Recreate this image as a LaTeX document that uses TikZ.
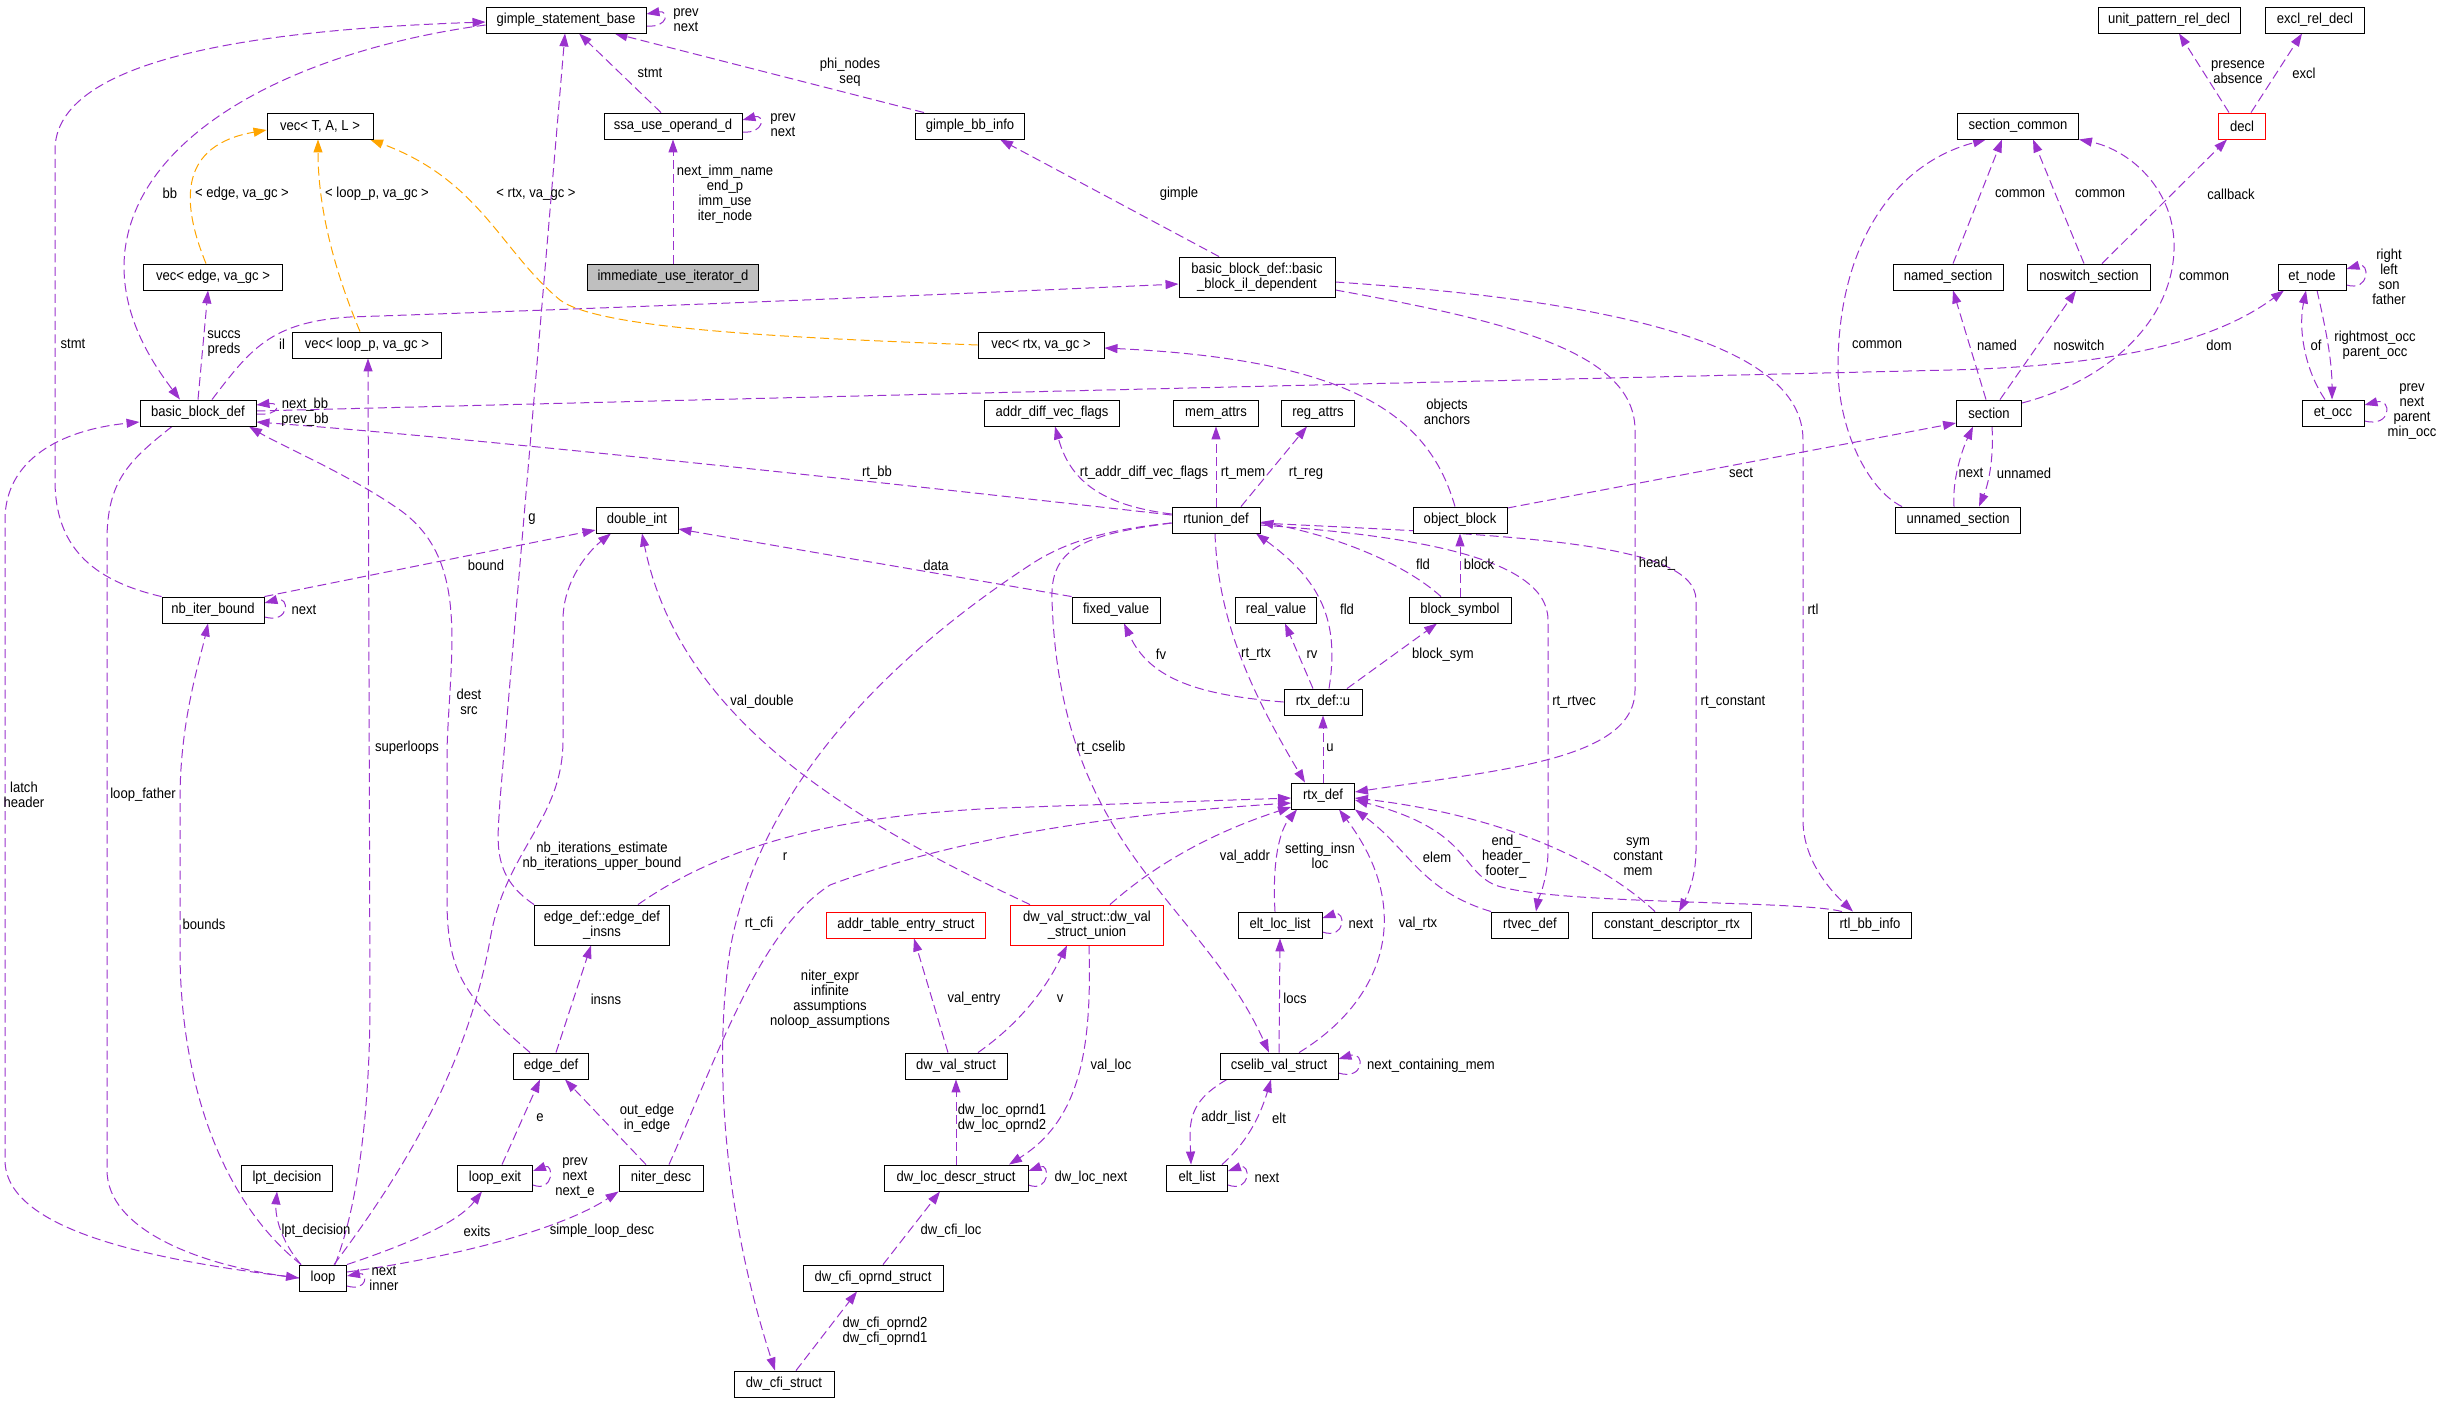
\documentclass[tikz,border=0pt]{standalone}
\usepackage{fontspec}
\setmainfont{Liberation Sans}[FakeStretch=0.9]
\usetikzlibrary{arrows.meta,backgrounds}
\definecolor{pur}{HTML}{9A32CD}
\definecolor{org}{HTML}{FFA500}
\definecolor{grayfill}{HTML}{BFBFBF}
\begin{document}
\begin{tikzpicture}[x=1pt,y=-1pt,
  every node/.style={font=\fontsize{14.5}{15}\selectfont},
  cls/.style={draw=black, line width=0.9pt, fill=white, minimum height=26pt, inner sep=0pt, align=center},
  cls2/.style={cls, minimum height=40pt},
  redcls/.style={draw=red},
  lbl/.style={inner sep=0pt, align=center},
  pe/.style={draw=pur, color=pur, line width=1pt, dash pattern=on 9pt off 4.5pt, -{Triangle[length=13pt,width=9pt]}},
  oe/.style={pe, draw=org, color=org}]
\useasboundingbox (0,0) rectangle (2443,1403);
% ---------------- nodes ----------------
\node[cls,minimum width=160pt] (gsb) at (566,20) {gimple\_statement\_base};
\node[cls,minimum width=106pt] (vecT) at (320,126) {vec< T, A, L >};
\node[cls,minimum width=138pt] (ssa) at (673,126) {ssa\_use\_operand\_d};
\node[cls,minimum width=109pt] (gbi) at (970,126) {gimple\_bb\_info};
\node[cls,minimum width=142pt] (upr) at (2169,20) {unit\_pattern\_rel\_decl};
\node[cls,minimum width=99pt] (exd) at (2315,20) {excl\_rel\_decl};
\node[cls,minimum width=121pt] (secc) at (2018,126) {section\_common};
\node[cls,redcls,minimum width=47pt] (decl) at (2242,126) {decl};
\node[cls,minimum width=139pt] (vece) at (213,277) {vec< edge, va\_gc >};
\node[cls,fill=grayfill,minimum width=171pt] (imm) at (673,277) {immediate\_use\_iterator\_d};
\node[cls2,minimum width=156pt] (bbil) at (1257,277) {basic\_block\_def::basic\\\_block\_il\_dependent};
\node[cls,minimum width=110pt] (nsec) at (1948,277) {named\_section};
\node[cls,minimum width=123pt] (nosw) at (2089,277) {noswitch\_section};
\node[cls,minimum width=68pt] (etn) at (2312,277) {et\_node};
\node[cls,minimum width=149pt] (vecl) at (367,345) {vec< loop\_p, va\_gc >};
\node[cls,minimum width=126pt] (vecr) at (1041,345) {vec< rtx, va\_gc >};
\node[cls,minimum width=116pt] (bbd) at (198,413) {basic\_block\_def};
\node[cls,minimum width=135pt] (adv) at (1052,413) {addr\_diff\_vec\_flags};
\node[cls,minimum width=85pt] (mema) at (1216,413) {mem\_attrs};
\node[cls,minimum width=73pt] (rega) at (1318,413) {reg\_attrs};
\node[cls,minimum width=65pt] (sec) at (1989,413) {section};
\node[cls,minimum width=62pt] (eto) at (2333,413) {et\_occ};
\node[cls,minimum width=82pt] (dint) at (637,520) {double\_int};
\node[cls,minimum width=88pt] (rtu) at (1216,520) {rtunion\_def};
\node[cls,minimum width=94pt] (ob) at (1460,520) {object\_block};
\node[cls,minimum width=125pt] (uns) at (1958,520) {unnamed\_section};
\node[cls,minimum width=102pt] (nbi) at (213,610) {nb\_iter\_bound};
\node[cls,minimum width=88pt] (fxv) at (1116,610) {fixed\_value};
\node[cls,minimum width=81pt] (rlv) at (1276,610) {real\_value};
\node[cls,minimum width=102pt] (bsy) at (1460,610) {block\_symbol};
\node[cls,minimum width=78pt] (rdu) at (1323,702) {rtx\_def::u};
\node[cls,minimum width=63pt] (rtx) at (1323,796) {rtx\_def};
\node[cls2,minimum width=135pt] (ediu) at (602,925) {edge\_def::edge\_def\\\_insns};
\node[cls,redcls,minimum width=159pt] (ate) at (906,925) {addr\_table\_entry\_struct};
\node[cls2,redcls,minimum width=153pt] (dwu) at (1087,925) {dw\_val\_struct::dw\_val\\\_struct\_union};
\node[cls,minimum width=84pt] (ell) at (1280,925) {elt\_loc\_list};
\node[cls,minimum width=77pt] (rtv) at (1530,925) {rtvec\_def};
\node[cls,minimum width=159pt] (cdr) at (1672,925) {constant\_descriptor\_rtx};
\node[cls,minimum width=83pt] (rbi) at (1870,925) {rtl\_bb\_info};
\node[cls,minimum width=75pt] (ed) at (551,1066) {edge\_def};
\node[cls,minimum width=102pt] (dws) at (956,1066) {dw\_val\_struct};
\node[cls,minimum width=118pt] (csv) at (1279,1066) {cselib\_val\_struct};
\node[cls,minimum width=91pt] (lpt) at (287,1178) {lpt\_decision};
\node[cls,minimum width=75pt] (lex) at (495,1178) {loop\_exit};
\node[cls,minimum width=84pt] (nd) at (661,1178) {niter\_desc};
\node[cls,minimum width=144pt] (dld) at (956,1178) {dw\_loc\_descr\_struct};
\node[cls,minimum width=61pt] (el) at (1197,1178) {elt\_list};
\node[cls,minimum width=47pt] (lp) at (323,1278) {loop};
\node[cls,minimum width=140pt] (dco) at (873,1278) {dw\_cfi\_oprnd\_struct};
\node[cls,minimum width=100pt] (dcs) at (784,1384) {dw\_cfi\_struct};
% ---------------- edges ----------------
\begin{pgfonlayer}{background}
\draw[pe] ([xshift=-12pt]ssa.north) -- ([xshift=13pt]gsb.south);
\draw[pe] ([yshift=-6pt]ssa.east) .. controls (765,134) and (765,114) .. ([yshift=6pt]ssa.east);
\draw[pe] ([yshift=-6pt]gsb.east) .. controls (669,28) and (669,10) .. ([yshift=6pt]gsb.east);
\draw[pe] ([xshift=-46pt]gbi.north) -- ([xshift=-32pt]gsb.south east);
\draw[pe] (imm.north) -- (ssa.south);
\draw[pe] ([xshift=-38pt]bbil.north) -- ([xshift=30pt]gbi.south);
\draw[pe] ([xshift=-13pt]decl.north) -- ([xshift=10pt]upr.south);
\draw[pe] ([xshift=9pt]decl.north) -- ([xshift=-13pt]exd.south);
\draw[pe] ([xshift=5pt]nsec.north) -- ([xshift=-16pt]secc.south);
\draw[pe] ([xshift=-5pt]nosw.north) -- ([xshift=15pt]secc.south);
\draw[pe] ([xshift=13pt]nosw.north) -- ([xshift=-15pt]decl.south);
\draw[pe] ([yshift=10pt]sec.east) .. controls (2110,380) and (2172,320) .. (2174,250) .. controls (2176,190) and (2130,150) .. (secc.south east);
\draw[pe] ([xshift=-56pt]uns.north) .. controls (1868,490) and (1838,430) .. (1838,367) .. controls (1838,250) and (1890,165) .. ([xshift=-32pt]secc.south);
\draw[pe] ([xshift=-3pt]sec.north) -- ([xshift=5pt]nsec.south);
\draw[pe] ([xshift=11pt]sec.north) -- ([xshift=-13pt]nosw.south);
\draw[pe] ([xshift=-4pt]uns.north) .. controls (1952,480) and (1962,450) .. ([xshift=-16pt]sec.south);
\draw[pe] ([xshift=3pt]sec.south) .. controls (1994,460) and (1988,485) .. ([xshift=21pt]uns.north);
\draw[pe] ([yshift=12pt]ob.east) -- ([yshift=-10pt]sec.west);
\draw[pe] ([yshift=-8pt]etn.east) .. controls (2370,292) and (2370,262) .. ([yshift=8pt]etn.east);
\draw[pe] ([xshift=-8pt]eto.north) .. controls (2305,370) and (2298,330) .. ([xshift=-6pt]etn.south);
\draw[pe] ([xshift=5pt]etn.south) .. controls (2326,330) and (2332,360) .. ([xshift=-1pt]eto.north);
\draw[pe] ([yshift=-8pt]eto.east) .. controls (2392,428) and (2392,398) .. ([yshift=8pt]eto.east);
\draw[pe] ([yshift=2pt]bbd.east) .. controls (1000,392) and (1700,376) .. (1950,370) .. controls (2150,365) and (2230,330) .. ([xshift=-28pt]etn.south);
\draw[pe] ([yshift=-1pt]bbd.east) .. controls (281,416) and (281,402) .. ([yshift=8pt]bbd.east);
\draw[pe] ([yshift=5pt]rtu.west) .. controls (950,490) and (500,440) .. ([yshift=-9pt]bbd.east);
\draw[pe] ([xshift=14pt]bbd.north) .. controls (250,350) and (270,322) .. (350,317) .. controls (700,305) and (1000,292) .. ([yshift=-7pt]bbil.west);
\draw[pe] ([yshift=-5pt]gsb.west) .. controls (300,50) and (140,130) .. (125,250) .. controls (118,310) and (150,360) .. ([xshift=-18pt]bbd.north);
\draw[pe] (nbi.north west) .. controls (90,580) and (55,545) .. (55,480) -- (55,150) .. controls (55,60) and (250,30) .. ([yshift=-2pt]gsb.west);
\draw[pe] (ediu.north west) .. controls (490,875) and (498,840) .. (500,800) -- ([xshift=-1pt]gsb.south);
\draw[oe] ([xshift=-7pt]vece.north) .. controls (180,200) and (180,145) .. ([yshift=-4pt]vecT.west);
\draw[oe] ([xshift=-7pt]vecl.north) .. controls (330,260) and (318,200) .. ([xshift=-2pt]vecT.south);
\draw[oe] (vecr.west) .. controls (800,338) and (600,330) .. (560,300) .. controls (500,250) and (480,180) .. ([xshift=50pt]vecT.south);
\draw[pe] ([xshift=-5pt]ob.north) .. controls (1430,420) and (1360,360) .. ([yshift=-3pt]vecr.east);
\draw[pe] ([yshift=6pt]rtu.west) .. controls (1100,505) and (1070,480) .. ([xshift=3pt]adv.south);
\draw[pe] (rtu.north) -- (mema.south);
\draw[pe] ([xshift=25pt]rtu.north) -- ([xshift=-11pt]rega.south);
\draw[pe] ([xshift=-1pt]rtu.south) .. controls (1218,620) and (1250,690) .. ([xshift=-18pt]rtx.north);
\draw[pe] ([yshift=-5pt]rtu.east) .. controls (1400,535) and (1548,555) .. (1548,620) -- (1548,850) .. controls (1548,880) and (1538,900) .. ([xshift=6pt]rtv.north);
\draw[pe] ([yshift=-3pt]rtu.east) .. controls (1500,535) and (1696,540) .. (1696,600) -- (1696,850) .. controls (1696,880) and (1685,900) .. ([xshift=7pt]cdr.north);
\draw[pe] ([yshift=-3pt]rtu.west) .. controls (1080,535) and (1050,550) .. (1052,600) .. controls (1060,850) and (1200,900) .. ([xshift=-10pt]csv.north);
\draw[pe] ([yshift=-3pt]rtu.west) .. controls (1100,530) and (1060,545) .. (1030,565) .. controls (900,650) and (760,780) .. (730,950) .. controls (715,1050) and (720,1200) .. ([xshift=-9pt]dcs.north);
\draw[pe] ([xshift=6pt]rdu.north) .. controls (1340,620) and (1320,580) .. ([xshift=40pt]rtu.south);
\draw[pe] ([xshift=-19pt]bsy.north) .. controls (1400,560) and (1330,535) .. ([yshift=-2pt]rtu.east);
\draw[pe] (bsy.north) -- (ob.south);
\draw[pe] ([xshift=-10pt]rdu.north) -- ([xshift=9pt]rlv.south);
\draw[pe] ([xshift=24pt]rdu.north) -- ([xshift=-23pt]bsy.south);
\draw[pe] (rdu.west) .. controls (1200,695) and (1150,680) .. ([xshift=8pt]fxv.south);
\draw[pe] (rtx.north) -- (rdu.south);
\draw[pe] (fxv.north west) -- ([yshift=-9pt]dint.east);
\draw[pe] (nbi.north east) -- ([yshift=-10pt]dint.west);
\draw[pe] ([yshift=-7pt]nbi.east) .. controls (290,624) and (290,596) .. ([yshift=7pt]nbi.east);
\draw[pe] ([xshift=-57pt]dwu.north) .. controls (850,820) and (680,720) .. ([xshift=5pt]dint.south);
\draw[pe] ([xshift=11pt]lp.north) .. controls (420,1150) and (470,1050) .. (490,940) .. controls (505,850) and (563,820) .. (563,740) -- (563,620) .. controls (563,580) and (590,550) .. ([xshift=-26pt]dint.south);
\draw[pe] ([xshift=36pt]ediu.north) .. controls (730,840) and (850,815) .. (1000,808) -- ([yshift=-2pt]rtx.west);
\draw[pe] ([xshift=8pt]nd.north) .. controls (720,1050) and (760,930) .. (830,885) .. controls (950,840) and (1100,815) .. ([yshift=-7pt]rtx.west);
\draw[pe] ([xshift=23pt]dwu.north) .. controls (1160,860) and (1220,830) .. ([yshift=-11pt]rtx.west);
\draw[pe] ([xshift=-5pt]ell.north) .. controls (1272,860) and (1280,830) .. ([xshift=-26pt]rtx.south);
\draw[pe] ([xshift=20pt]csv.north) .. controls (1385,1000) and (1415,910) .. ([xshift=16pt]rtx.south);
\draw[pe] (rtv.north west) .. controls (1420,890) and (1410,850) .. (rtx.south east);
\draw[pe] ([xshift=-28pt]rbi.north) .. controls (1800,900) and (1550,905) .. (1495,885) .. controls (1460,870) and (1470,830) .. ([yshift=-4pt]rtx.east);
\draw[pe] ([xshift=-17pt]cdr.north) .. controls (1600,860) and (1500,815) .. ([yshift=-2pt]rtx.east);
\draw[pe] ([yshift=-13pt]bbil.east) .. controls (1500,320) and (1635,350) .. (1635,430) -- (1635,690) .. controls (1635,760) and (1500,770) .. ([yshift=4pt]rtx.east);
\draw[pe] ([yshift=-5pt]bbil.east) .. controls (1600,300) and (1803,340) .. (1803,440) -- (1803,820) .. controls (1803,860) and (1830,890) .. ([xshift=-17pt]rbi.north);
\draw[pe] (csv.north) -- (ell.south);
\draw[pe] ([yshift=-7pt]csv.east) .. controls (1365,1081) and (1365,1051) .. ([yshift=7pt]csv.east);
\draw[pe] ([yshift=-7pt]ell.east) .. controls (1346,940) and (1346,910) .. ([yshift=7pt]ell.east);
\draw[pe] ([xshift=-52pt]csv.south) .. controls (1200,1095) and (1190,1110) .. (1190,1135) -- ([xshift=-6pt]el.north);
\draw[pe] ([xshift=-6pt]el.north east) .. controls (1250,1140) and (1262,1110) .. ([xshift=-8pt]csv.south);
\draw[pe] ([yshift=-7pt]el.east) .. controls (1251,1193) and (1251,1163) .. ([yshift=7pt]el.east);
\draw[pe] ([xshift=-8pt]dws.north) -- ([xshift=8pt]ate.south);
\draw[pe] ([xshift=22pt]dws.north) .. controls (1010,1030) and (1040,1000) .. ([xshift=-20pt]dwu.south);
\draw[pe] ([xshift=2pt]dwu.south) .. controls (1092,1050) and (1080,1120) .. ([xshift=53pt]dld.north);
\draw[pe] (dld.north) -- (dws.south);
\draw[pe] ([yshift=-7pt]dld.east) .. controls (1050,1193) and (1050,1163) .. ([yshift=7pt]dld.east);
\draw[pe] ([xshift=10pt]dco.north) -- ([xshift=-16pt]dld.south);
\draw[pe] ([xshift=12pt]dcs.north) -- ([xshift=-16pt]dco.south);
\draw[pe] ([xshift=5pt]ed.north) -- ([xshift=-11pt]ediu.south);
\draw[pe] ([xshift=-21pt]ed.north) .. controls (470,1000) and (447,980) .. (447,900) -- (447,750) .. controls (450,650) and (470,560) .. (400,510) .. controls (350,475) and (280,445) .. ([xshift=51pt]bbd.south);
\draw[pe] ([xshift=7pt]lex.north) -- ([xshift=-11pt]ed.south);
\draw[pe] ([xshift=-15pt]nd.north) -- ([xshift=14pt]ed.south);
\draw[pe] ([yshift=-7pt]lex.east) .. controls (554,1193) and (554,1163) .. ([yshift=7pt]lex.east);
\draw[pe] (lp.north east) .. controls (420,1240) and (460,1220) .. ([xshift=-13pt]lex.south);
\draw[pe] ([yshift=6pt]lp.east) .. controls (450,1258) and (560,1230) .. (nd.south west);
\draw[pe] ([xshift=2pt]lp.north west) .. controls (280,1240) and (275,1215) .. ([xshift=-10pt]lpt.south);
\draw[pe] ([yshift=-8pt]lp.east) .. controls (368,1292) and (368,1272) .. ([yshift=2pt]lp.east);
\draw[pe] ([xshift=2pt]lp.north west) .. controls (220,1200) and (180,1080) .. (180,950) -- (180,800) .. controls (180,720) and (200,660) .. ([xshift=-5pt]nbi.south);
\draw[pe] ([xshift=12pt]lp.north) .. controls (360,1200) and (370,1100) .. (370,1000) -- ([xshift=1pt]vecl.south);
\draw[pe] (lp.west) .. controls (150,1260) and (5,1230) .. (5,1160) -- (5,520) .. controls (5,460) and (60,430) .. ([yshift=-9pt]bbd.west);
\draw[pe] ([xshift=-26pt]bbd.south) .. controls (130,460) and (107,480) .. (107,540) -- (107,1170) .. controls (107,1230) and (200,1265) .. (lp.west);
\draw[pe] (bbd.north) -- ([xshift=-5pt]vece.south);
\end{pgfonlayer}
% ---------------- labels ----------------
\node[lbl] (L1) at (650,73) {stmt};
\node[lbl] (L2) at (783,125) {prev\\next};
\node[lbl] (L3) at (686,20) {prev\\next};
\node[lbl] (L4) at (850,72) {phi\_nodes\\seq};
\node[lbl] (L5) at (725,194) {next\_imm\_name\\end\_p\\imm\_use\\iter\_node};
\node[lbl] (L6) at (1179,194) {gimple};
\node[lbl] (L7) at (2238,72) {presence\\absence};
\node[lbl] (L8) at (2304,73) {excl};
\node[lbl] (L9) at (2020,194) {common};
\node[lbl] (L10) at (2100,194) {common};
\node[lbl] (L11) at (2231,194) {callback};
\node[lbl] (L12) at (2204,277) {common};
\node[lbl] (L13) at (1877,345) {common};
\node[lbl] (L14) at (1997,345) {named};
\node[lbl] (L15) at (2079,345) {noswitch};
\node[lbl] (L16) at (1971,473) {next};
\node[lbl] (L17) at (2024,473) {unnamed};
\node[lbl] (L18) at (1741,473) {sect};
\node[lbl] (L19) at (2389,277) {right\\left\\son\\father};
\node[lbl] (L20) at (2316,345) {of};
\node[lbl] (L21) at (2375,345) {rightmost\_occ\\parent\_occ};
\node[lbl] (L22) at (2412,412) {prev\\next\\parent\\min\_occ};
\node[lbl] (L23) at (2219,345) {dom};
\node[lbl] (L24) at (305,412) {next\_bb\\prev\_bb};
\node[lbl] (L25) at (877,473) {rt\_bb};
\node[lbl] (L26) at (282,344) {il};
\node[lbl] (L27) at (170,193) {bb};
\node[lbl] (L28) at (73,344) {stmt};
\node[lbl] (L29) at (532,519) {g};
\node[lbl] (L30) at (242,194) {< edge, va\_gc >};
\node[lbl] (L31) at (377,194) {< loop\_p, va\_gc >};
\node[lbl] (L32) at (536,194) {< rtx, va\_gc >};
\node[lbl] (L33) at (1447,412) {objects\\anchors};
\node[lbl] (L34) at (1144,473) {rt\_addr\_diff\_vec\_flags};
\node[lbl] (L35) at (1243,473) {rt\_mem};
\node[lbl] (L36) at (1306,473) {rt\_reg};
\node[lbl] (L37) at (1256,654) {rt\_rtx};
\node[lbl] (L38) at (1574,702) {rt\_rtvec};
\node[lbl] (L39) at (1733,702) {rt\_constant};
\node[lbl] (L40) at (1101,748) {rt\_cselib};
\node[lbl] (L41) at (759,924) {rt\_cfi};
\node[lbl] (L42) at (1347,609) {fld};
\node[lbl] (L43) at (1423,564) {fld};
\node[lbl] (L44) at (1479,564) {block};
\node[lbl] (L45) at (1312,655) {rv};
\node[lbl] (L46) at (1443,655) {block\_sym};
\node[lbl] (L47) at (1161,654) {fv};
\node[lbl] (L48) at (1330,748) {u};
\node[lbl] (L49) at (936,565) {data};
\node[lbl] (L50) at (486,565) {bound};
\node[lbl] (L51) at (304,610) {next};
\node[lbl] (L52) at (762,702) {val\_double};
\node[lbl] (L53) at (602,856) {nb\_iterations\_estimate\\nb\_iterations\_upper\_bound};
\node[lbl] (L54) at (785,857) {r};
\node[lbl] (L55) at (830,999) {niter\_expr\\infinite\\assumptions\\noloop\_assumptions};
\node[lbl] (L56) at (1245,857) {val\_addr};
\node[lbl] (L57) at (1320,856) {setting\_insn\\loc};
\node[lbl] (L58) at (1418,924) {val\_rtx};
\node[lbl] (L59) at (1437,857) {elem};
\node[lbl] (L60) at (1506,857) {end\_\\header\_\\footer\_};
\node[lbl] (L61) at (1638,857) {sym\\constant\\mem};
\node[lbl] (L62) at (1657,564) {head\_};
\node[lbl] (L63) at (1813,609) {rtl};
\node[lbl] (L64) at (1295,998) {locs};
\node[lbl] (L65) at (1431,1066) {next\_containing\_mem};
\node[lbl] (L66) at (1361,924) {next};
\node[lbl] (L67) at (1226,1118) {addr\_list};
\node[lbl] (L68) at (1279,1118) {elt};
\node[lbl] (L69) at (1267,1178) {next};
\node[lbl] (L70) at (974,999) {val\_entry};
\node[lbl] (L71) at (1060,999) {v};
\node[lbl] (L72) at (1111,1066) {val\_loc};
\node[lbl] (L73) at (1002,1118) {dw\_loc\_oprnd1\\dw\_loc\_oprnd2};
\node[lbl] (L74) at (1091,1178) {dw\_loc\_next};
\node[lbl] (L75) at (951,1231) {dw\_cfi\_loc};
\node[lbl] (L76) at (885,1331) {dw\_cfi\_oprnd2\\dw\_cfi\_oprnd1};
\node[lbl] (L77) at (606,999) {insns};
\node[lbl] (L78) at (469,702) {dest\\src};
\node[lbl] (L79) at (540,1118) {e};
\node[lbl] (L80) at (647,1118) {out\_edge\\in\_edge};
\node[lbl] (L81) at (575,1178) {prev\\next\\next\_e};
\node[lbl] (L82) at (477,1231) {exits};
\node[lbl] (L83) at (602,1231) {simple\_loop\_desc};
\node[lbl] (L84) at (316,1231) {lpt\_decision};
\node[lbl] (L85) at (384,1278) {next\\inner};
\node[lbl] (L86) at (204,924) {bounds};
\node[lbl] (L87) at (407,748) {superloops};
\node[lbl] (L88) at (24,795) {latch\\header};
\node[lbl] (L89) at (143,795) {loop\_father};
\node[lbl] (L90) at (224,344) {succs\\preds};
\end{tikzpicture}
\end{document}
